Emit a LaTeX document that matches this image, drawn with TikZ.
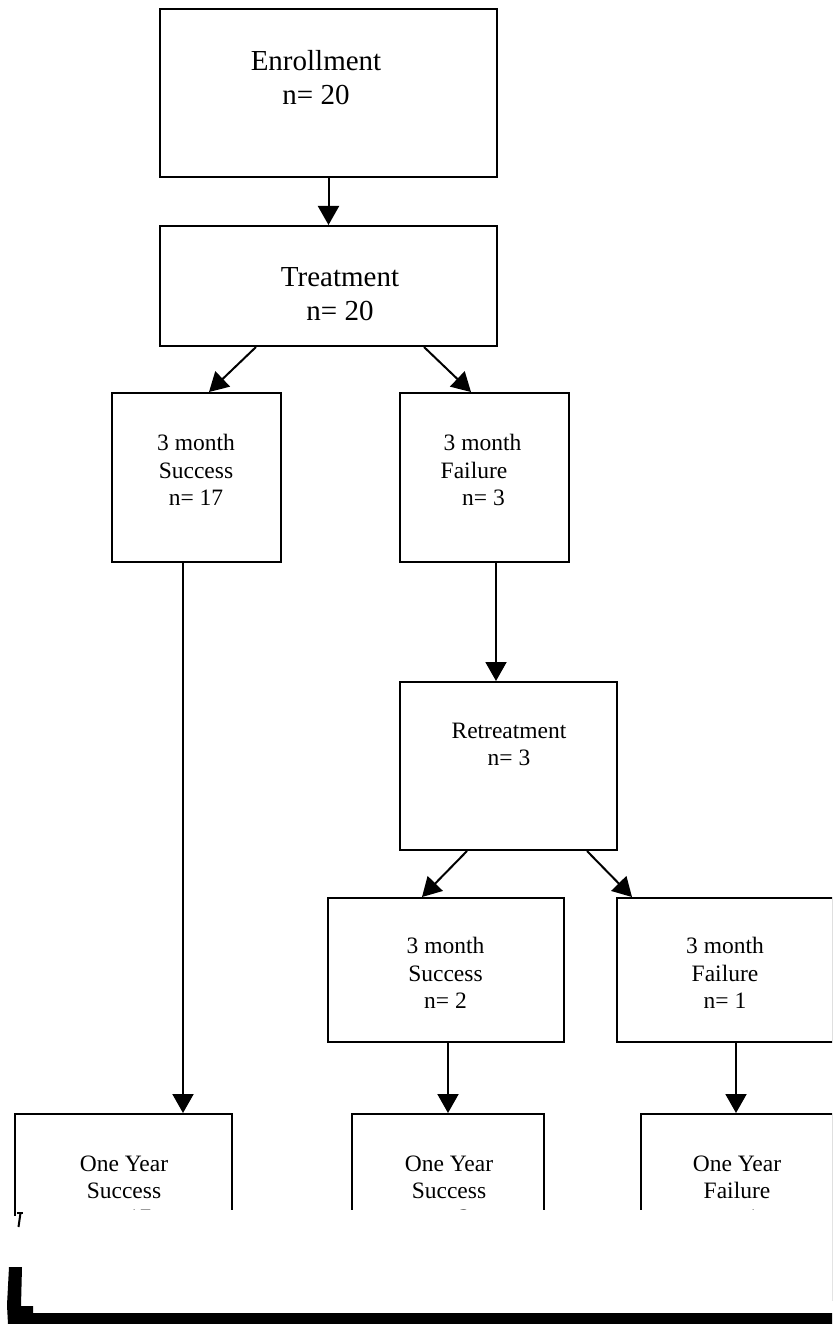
\documentclass[tikz,border=0pt]{standalone}
\usepackage{fontspec}
\setmainfont{Liberation Serif}
\usetikzlibrary{arrows.meta}
\tikzset{
  box/.style={draw, line width=2pt, inner sep=0pt, rectangle},
  arr/.style={line width=2pt, -{Triangle[length=19pt,width=21pt]}},
  big/.style={font=\fontsize{29}{33}\selectfont, anchor=base, inner sep=0pt},
  sml/.style={font=\fontsize{23.5}{27}\selectfont, anchor=base, inner sep=0pt},
}
\begin{document}
\begin{tikzpicture}[x=1pt,y=-1pt]
\clip (0,0) rectangle (832,1324);
\fill[white] (0,0) rectangle (832,1324);

% boxes
\node[box, minimum width=337pt, minimum height=168pt] (enr) at (328.5,93) {};
\node[box, minimum width=337pt, minimum height=120pt] (trt) at (328.5,286) {};
\node[box, minimum width=169pt, minimum height=169pt] (s1) at (196.5,477.5) {};
\node[box, minimum width=169pt, minimum height=169pt] (f1) at (484.5,477.5) {};
\node[box, minimum width=217pt, minimum height=168pt] (ret) at (508.5,766) {};
\node[box, minimum width=236pt, minimum height=144pt] (s2) at (446,970) {};
\node[box, minimum width=216pt, minimum height=144pt] (f2) at (725,970) {};
\node[box, minimum width=217pt, minimum height=186pt] (y1) at (123.5,1207) {};
\node[box, minimum width=192pt, minimum height=186pt] (y2) at (448,1207) {};
\node[box, minimum width=192pt, minimum height=186pt] (y3) at (737,1207) {};

% texts
\node[big] (enr1) at (316,71) {Enrollment};
\node[big] (enr2) at (316,105) {n= 20};
\node[big] (trt1) at (340,287) {Treatment};
\node[big] (trt2) at (340,320) {n= 20};

\node[sml] (s1a) at (196,450) {3 month};
\node[sml] (s1b) at (196,478) {Success};
\node[sml] (s1c) at (196,505) {n= 17};

\node[sml] (f1a) at (482.5,450) {3 month};
\node[sml] (f1b) at (474,478) {Failure};
\node[sml] (f1c) at (483.5,505) {n= 3};

\node[sml] (reta) at (509,738) {Retreatment};
\node[sml] (retb) at (509,765) {n= 3};

\node[sml] (s2a) at (445.5,953) {3 month};
\node[sml] (s2b) at (445.5,981) {Success};
\node[sml] (s2c) at (445.5,1008) {n= 2};

\node[sml] (f2a) at (725,953) {3 month};
\node[sml] (f2b) at (725,981) {Failure};
\node[sml] (f2c) at (725,1008) {n= 1};

\node[sml] (y1a) at (124,1171) {One Year};
\node[sml] (y1b) at (124,1198) {Success};
\node[sml] (y1c) at (124,1225) {n= 17};

\node[sml] (y2a) at (449,1171) {One Year};
\node[sml] (y2b) at (449,1198) {Success};
\node[sml] (y2c) at (449,1225) {n= 2};

\node[sml] (y3a) at (737,1171) {One Year};
\node[sml] (y3b) at (737,1198) {Failure};
\node[sml] (y3c) at (737,1225) {n= 1};

% connectors
\draw[arr] (enr.south) -- (trt.north);
\draw[arr] ([xshift=97pt]trt.south west) -- ([xshift=98pt]s1.north west);
\draw[arr] ([xshift=265pt]trt.south west) -- ([xshift=72pt]f1.north west);
\draw[arr] ([xshift=72pt]s1.south west) -- ([xshift=169pt]y1.north west);
\draw[arr] ([xshift=97pt]f1.south west) -- ([xshift=97pt]ret.north west);
\draw[arr] ([xshift=68pt]ret.south west) -- ([xshift=95pt]s2.north west);
\draw[arr] ([xshift=188pt]ret.south west) -- ([xshift=16pt]f2.north west);
\draw[arr] ([xshift=121pt]s2.south west) -- ([xshift=97pt]y2.north west);
\draw[arr] ([xshift=120pt]f2.south west) -- ([xshift=96pt]y3.north west);

% cut-off region and artifacts at the bottom
\fill[white] (17,1210) rectangle (840,1313);
\fill[white] (0,1216) rectangle (17,1313);
\draw[line width=2pt] (17,1213) -- (23,1213);
\draw[line width=2pt] (20.5,1213) -- (18.5,1227);
\fill[black] (9,1267) -- (22,1267) -- (21,1306) -- (33,1306) -- (33,1313) -- (832,1313) -- (832,1324) -- (8,1324) -- (7,1305) -- cycle;
\end{tikzpicture}
\end{document}
